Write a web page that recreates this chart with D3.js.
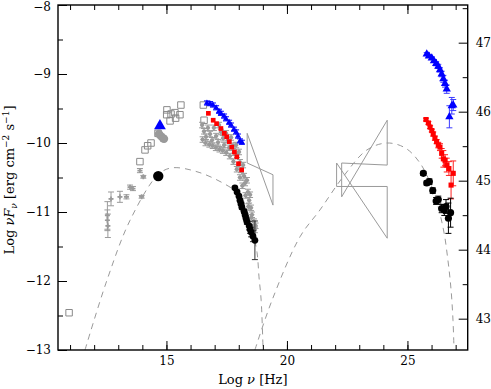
<html>
<head>
<script src="https://cdnjs.cloudflare.com/ajax/libs/d3/7.8.5/d3.min.js"></script>
<style>
  body { margin: 0; background: #fff; }
  text { font-family: "DejaVu Serif", serif; }
</style>
</head>
<body>
<script>
// ---- data (log nu [Hz], log nuFnu [erg cm-2 s-1]) ----
var lumOffset = 55.546;   // log(4 pi d^2), right hand axis

var syncModel = [[11.62,-13.0],[12.53,-11.99],[13.49,-11.12],[14.65,-10.46],[15.23,-10.36],
  [16.39,-10.43],[17.64,-10.64],[18.05,-10.75],[18.34,-10.97],[18.59,-11.30],
  [18.76,-11.59],[18.84,-11.94],[18.93,-12.28],[19.01,-13.0]];
var icModel = [[18.67,-13.0],[19.38,-12.28],[20.54,-11.36],[21.37,-10.97],[22.33,-10.49],
  [23.32,-10.10],[24.15,-10.00],[24.90,-10.07],[25.52,-10.29],[26.06,-10.68],
  [26.48,-11.23],[26.68,-11.70],[26.81,-12.13],[26.89,-12.57],[26.93,-12.97]];

// archival (grey)
var grayOpenSquares = [[10.96,-12.46],[13.90,-10.27],[14.11,-10.10],[14.22,-10.04],[14.36,-10.00],
  [14.65,-9.86],[15.01,-9.59],[15.19,-9.58],[15.35,-9.56],[15.56,-9.59],[15.60,-9.45],
  [15.15,-9.68],[15.38,-9.64],[15.02,-9.52],[16.53,-9.45],[16.56,-9.67]];
var grayIR = [[12.55,-11.05,0.2],[12.55,-11.12,0.15],[12.57,-11.20,0.17],[12.70,-10.81,0.1],
  [13.07,-10.78,0.08],[13.34,-10.78,0.03],[13.49,-10.64,0.03],[13.61,-10.66,0.03],
  [13.97,-10.78,0.02],[13.90,-10.40,0.03],[14.04,-10.49,0.02]];
var grayOptical = [[14.69,-9.87],[14.77,-9.90],[14.86,-9.93],[14.90,-9.94]];
var grayXray = [[16.48,-9.74],[16.56,-9.83],[16.64,-9.91],[16.72,-9.78],[16.81,-9.87],[16.89,-9.96],
  [16.97,-9.78],[17.06,-9.90],[17.14,-9.99],[17.18,-9.74],[17.26,-9.84],[17.35,-9.93],
  [17.39,-10.03],[17.47,-9.86],[17.55,-9.96],[17.60,-10.07],[17.68,-9.92],[17.76,-10.04],
  [17.80,-10.14],[17.89,-10.03],[17.93,-10.17],[18.01,-10.13],[18.05,-10.28],[18.09,-10.39],
  [18.18,-10.32],[18.22,-10.48],[18.26,-10.58],[18.34,-10.54],[18.38,-10.71],[18.43,-10.83],
  [18.47,-10.75],[18.51,-10.94],[18.55,-11.04],[18.63,-11.14],[18.67,-11.26],
  [16.50,-9.95],[16.62,-10.00],[16.78,-10.02],[16.92,-10.04],[17.05,-10.07],[17.20,-10.09],
  [17.34,-10.11],[17.48,-10.14],[17.63,-10.19],[17.78,-10.27],[17.92,-10.38],[18.05,-10.50],
  [18.15,-10.62],[18.28,-10.76],[18.40,-10.92],[18.52,-11.08],[18.62,-11.22],[18.70,-11.20]];
var bowties = [
  [[18.35,-9.86],[19.42,-10.90],[19.42,-10.46],[18.35,-10.29]],
  [[22.06,-10.29],[24.16,-11.38],[24.16,-10.63],[22.06,-10.63]],
  [[22.27,-10.29],[24.16,-10.32],[24.16,-9.67],[22.27,-10.78]]
];

// high state (blue)
var blueOptical = [[14.73,-9.75]];
var blueXray = [[16.68,-9.42],[16.81,-9.43],[16.93,-9.45],[17.06,-9.49],[17.18,-9.54],[17.26,-9.57],
  [17.39,-9.61],[17.47,-9.65],[17.60,-9.70],[17.68,-9.74],[17.80,-9.80],[17.89,-9.84],
  [17.97,-9.90],[18.05,-9.97],[18.13,-9.99]];
var blueGamma = [[25.80,-8.71,0.02],[25.89,-8.74,0.02],[26.01,-8.77,0.02],[26.10,-8.81,0.02],
  [26.19,-8.85,0.03],[26.28,-8.89,0.03],[26.35,-8.94,0.03],[26.42,-9.00,0.04],[26.49,-9.07,0.05],
  [26.56,-9.14,0.05],[26.63,-9.22,0.06],[26.84,-9.46,0.12],[26.74,-9.62,0.16],[26.90,-9.45,0.08]];

// intermediate state (red)
var redXray = [[16.74,-9.57],[16.94,-9.67],[17.08,-9.72],[17.26,-9.79],[17.40,-9.86],[17.50,-9.91],
  [17.61,-9.98],[17.71,-10.06],[17.82,-10.13],[17.92,-10.20],[17.99,-10.30],[18.12,-10.39]];
var redGamma = [[25.77,-9.66,0.02],[25.87,-9.71,0.02],[25.94,-9.77,0.02],[26.01,-9.82,0.02],
  [26.07,-9.87,0.03],[26.14,-9.93,0.03],[26.21,-9.98,0.03],[26.28,-10.03,0.04],[26.35,-10.06,0.05],
  [26.42,-10.15,0.07],[26.49,-10.23,0.12],[26.56,-10.25,0.08],[26.63,-10.32,0.1],[26.72,-10.37,0.1],
  [26.81,-10.61,0.2],[26.90,-10.44,0.18]];

// low state (black)
var blackOptical = [[14.66,-10.48]];
var blackXray = [[17.84,-10.65,0.02],[17.93,-10.71,0.02],[18.01,-10.77,0.02],[18.05,-10.83,0.02],
  [18.09,-10.88,0.02],[18.13,-10.93,0.03],[18.22,-10.99,0.03],[18.26,-11.04,0.03],[18.30,-11.09,0.04],
  [18.34,-11.14,0.04],[18.43,-11.20,0.06],[18.47,-11.25,0.06],[18.51,-11.29,0.07],[18.59,-11.35,0.08],
  [18.67,-11.41,0.28]];
var blackGamma = [[25.66,-10.44,0.03],[25.80,-10.58,0.03],[25.91,-10.56,0.04],[26.05,-10.69,0.04],
  [26.19,-10.84,0.05],[26.28,-10.82,0.05],[26.42,-10.95,0.06],[26.53,-10.97,0.08],[26.60,-10.92,0.1],
  [26.70,-11.09,0.22],[26.79,-11.01,0.21]];

var xMajor = [15, 20, 25];
var yMajor = [-8, -9, -10, -11, -12, -13];
var yRMajor = [43, 44, 45, 46, 47];

// ---- layout ----
var W = 491, H = 389;
var pL = 58, pR = 467.7, pT = 5, pB = 350;

var svg = d3.select("body").append("svg")
  .attr("width", W).attr("height", H);

var x = d3.scaleLinear().domain([10.5, 27.5]).range([pL, pR]);
var y = d3.scaleLinear().domain([-13, -8]).range([pB, pT]);
var yR = d3.scaleLinear().domain([-13 + lumOffset, -8 + lumOffset]).range([pB, pT]);

var grey = "#9a9a9a";
var plot = svg.append("g");

// dashed model curves
var line = d3.line().x(d => x(d[0])).y(d => y(d[1])).curve(d3.curveCatmullRom);
[syncModel, icModel].forEach(function (c) {
  plot.append("path").attr("d", line(c))
    .attr("fill", "none").attr("stroke", grey).attr("stroke-width", 1)
    .attr("stroke-dasharray", "6,5");
});

// bowties
bowties.forEach(function (b) {
  plot.append("path")
    .attr("d", d3.line().x(d => x(d[0])).y(d => y(d[1]))(b) + "Z")
    .attr("fill", "none").attr("stroke", grey).attr("stroke-width", 1);
});

function errBars(data, color, dx) {
  var g = plot.append("g").attr("stroke", color).attr("stroke-width", 1).attr("fill", "none");
  data.forEach(function (d) {
    var e = d[2] || 0;
    if (e > 0) {
      g.append("line").attr("x1", x(d[0])).attr("x2", x(d[0]))
        .attr("y1", y(d[1] - e)).attr("y2", y(d[1] + e));
      [d[1] - e, d[1] + e].forEach(function (v) {
        g.append("line").attr("x1", x(d[0]) - 3).attr("x2", x(d[0]) + 3)
          .attr("y1", y(v)).attr("y2", y(v));
      });
    }
    if (dx) {
      g.append("line").attr("x1", x(d[0] - dx)).attr("x2", x(d[0] + dx))
        .attr("y1", y(d[1])).attr("y2", y(d[1]));
    }
  });
}

function symbols(data, type, size, fill, stroke) {
  plot.append("g").selectAll("path").data(data).join("path")
    .attr("transform", d => "translate(" + x(d[0]) + "," + y(d[1]) + ")")
    .attr("d", d3.symbol().type(type).size(size))
    .attr("fill", fill).attr("stroke", stroke || "none").attr("stroke-width", 1);
}

// grey archival
symbols(grayOpenSquares, d3.symbolSquare, 42, "none", "#8a8a8a");
errBars(grayIR, grey, 0.08);
symbols(grayIR, d3.symbolCross, 14, grey);
errBars(grayXray.map(d => [d[0], d[1], 0.04]), grey, 0.09);
symbols(grayXray, d3.symbolCircle, 14, grey);
symbols(grayOptical, d3.symbolCircle, 55, grey);

// blue
errBars(blueXray.map(d => [d[0], d[1], 0.03]), "#0000ff", 0.05);
symbols(blueXray, d3.symbolTriangle, 16, "#0000ff");
symbols(blueOptical, d3.symbolTriangle, 60, "#0000ff");
errBars(blueGamma, "#3b3bff", 0.04);
symbols(blueGamma, d3.symbolTriangle, 30, "#0000ff");

// red
symbols(redXray, d3.symbolSquare, 22, "#ff0000");
errBars(redGamma, "#ff2020", 0.04);
symbols(redGamma, d3.symbolSquare, 26, "#ff0000");

// black
errBars(blackXray, "#333", 0);
symbols(blackXray, d3.symbolCircle, 36, "#000");
symbols(blackOptical, d3.symbolCircle, 85, "#000");
errBars(blackGamma, "#000", 0.04);
symbols(blackGamma, d3.symbolCircle, 40, "#000");

// ---- axes ----
var axes = svg.append("g");
function styleAxis(g) {
  g.select(".domain").remove();
  g.selectAll(".tick line").attr("stroke", "#000").attr("stroke-width", 1);
  g.selectAll("text").attr("font-family", "DejaVu Serif").attr("font-size", 12).attr("fill", "#000");
}
var xMinor = d3.range(11, 28);
axes.append("g").attr("transform", "translate(0," + pB + ")")
  .call(d3.axisBottom(x).tickValues(xMinor).tickSize(-5).tickFormat("")).call(styleAxis);
axes.append("g").attr("transform", "translate(0," + pB + ")")
  .call(d3.axisBottom(x).tickValues(xMajor).tickSize(-9).tickPadding(6).tickFormat(d3.format("d"))).call(styleAxis);
axes.append("g").attr("transform", "translate(0," + pT + ")")
  .call(d3.axisTop(x).tickValues(xMinor).tickSize(-5).tickFormat("")).call(styleAxis);
axes.append("g").attr("transform", "translate(0," + pT + ")")
  .call(d3.axisTop(x).tickValues(xMajor).tickSize(-9).tickFormat("")).call(styleAxis);

axes.append("g").attr("transform", "translate(" + pL + ",0)")
  .call(d3.axisLeft(y).tickValues(d3.range(-12.5, -8, 1)).tickSize(-5).tickFormat("")).call(styleAxis);
var yAx = axes.append("g").attr("transform", "translate(" + pL + ",0)")
  .call(d3.axisLeft(y).tickValues(yMajor).tickSize(-9).tickPadding(7).tickFormat(d3.format("d"))).call(styleAxis);
yAx.selectAll("text").filter(d => d === -8).attr("dy", "0.42em");

axes.append("g").attr("transform", "translate(" + pR + ",0)")
  .call(d3.axisRight(yR).tickValues(d3.range(43.5, 47.6, 1)).tickSize(-5).tickFormat("")).call(styleAxis);
axes.append("g").attr("transform", "translate(" + pR + ",0)")
  .call(d3.axisRight(yR).tickValues(yRMajor).tickSize(-9).tickPadding(8).tickFormat(d3.format("d"))).call(styleAxis);

axes.append("rect").attr("x", pL).attr("y", pT)
  .attr("width", pR - pL).attr("height", pB - pT)
  .attr("fill", "none").attr("stroke", "#000").attr("stroke-width", 1.4);

// axis titles
var xt = svg.append("text").attr("x", (pL + pR) / 2 - 10).attr("y", 384)
  .attr("text-anchor", "middle").attr("font-size", 13);
xt.append("tspan").text("Log ");
xt.append("tspan").attr("font-style", "italic").text("ν");
xt.append("tspan").text(" [Hz]");

var yt = svg.append("text").attr("transform", "translate(14,180) rotate(-90)")
  .attr("text-anchor", "middle").attr("font-size", 13);
yt.append("tspan").text("Log ");
yt.append("tspan").attr("font-style", "italic").text("νF");
yt.append("tspan").attr("font-style", "italic").attr("font-size", 9).attr("dy", 3).text("ν");
yt.append("tspan").attr("dy", -3).text(" [erg cm");
yt.append("tspan").attr("font-size", 9).attr("dy", -5).text("−2");
yt.append("tspan").attr("dy", 5).text(" s");
yt.append("tspan").attr("font-size", 9).attr("dy", -5).text("−1");
yt.append("tspan").attr("dy", 5).text("]");
</script>
</body>
</html>
